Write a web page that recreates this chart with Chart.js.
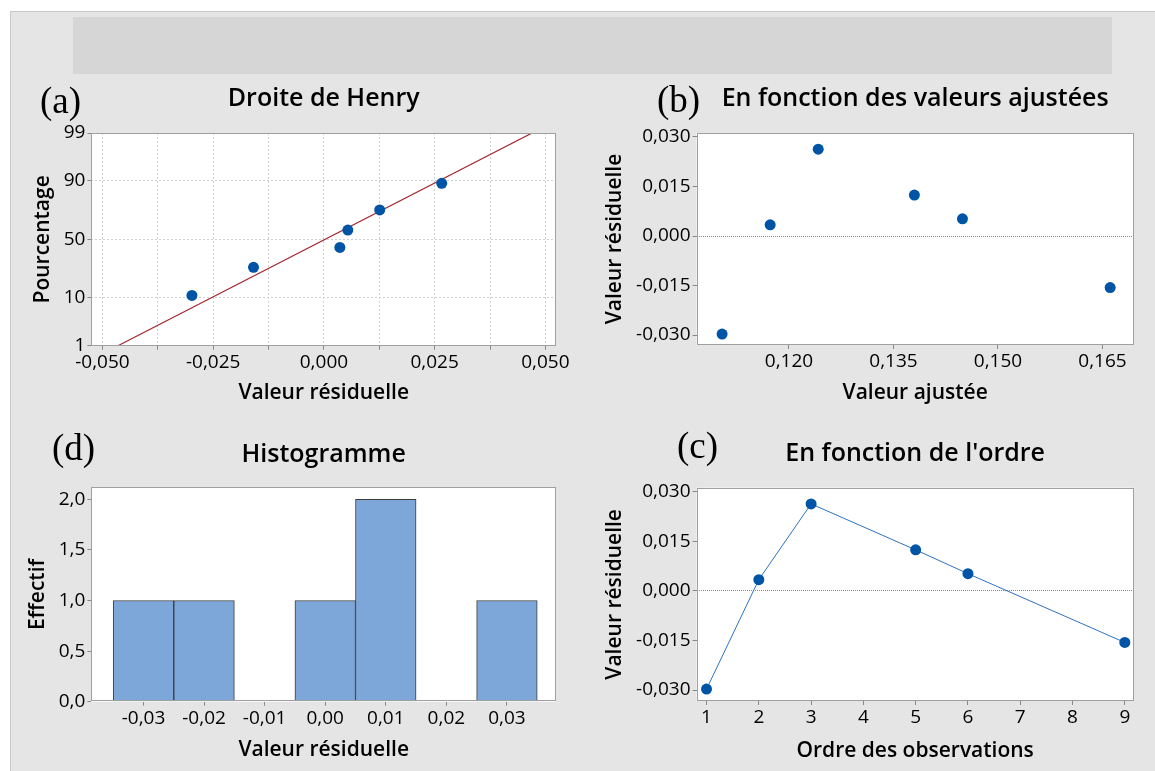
<!DOCTYPE html>
<html>
<head>
<meta charset="utf-8">
<script src="https://cdn.jsdelivr.net/npm/chart.js@4/dist/chart.umd.min.js"></script>
<style>
  html, body { margin: 0; padding: 0; background: #ffffff; }
  body { width: 1155px; height: 771px; position: relative; overflow: hidden; }
  #frame { position: absolute; left: 10px; top: 11px; width: 1160px; height: 770px; background: #e5e5e5; border: 1px solid #c8c8c8; box-sizing: border-box; }
  #banner { position: absolute; left: 73px; top: 17px; width: 1039px; height: 57px; background: #d6d6d6; }
  canvas { position: absolute; }
  .lab { position: absolute; font-family: 'Liberation Serif', 'Times New Roman', serif; font-size: 37px; color: #000; line-height: 1; white-space: nowrap; }
</style>
</head>
<body>
<div id="frame"></div>
<div id="banner"></div>
<canvas id="cA" width="580" height="340" style="left:0px;top:80px;"></canvas>
<canvas id="cB" width="575" height="340" style="left:580px;top:80px;"></canvas>
<canvas id="cD" width="580" height="341" style="left:0px;top:430px;"></canvas>
<canvas id="cC" width="575" height="341" style="left:580px;top:430px;"></canvas>
<div class="lab" style="left:40px;top:82px;">(a)</div>
<div class="lab" style="left:657px;top:81px;">(b)</div>
<div class="lab" style="left:52px;top:429px;">(d)</div>
<div class="lab" style="left:677px;top:427px;">(c)</div>
<script>
// ---------- data ----------
const henryResid   = [-0.0298, -0.0159, 0.0036, 0.0054, 0.0126, 0.0266];
const henryPct     = [11, 27, 43, 58, 74, 89];
const fitLineResid = [-0.0465, 0.0470];
const fitLinePct   = [1, 99];
const pctTicks     = [1, 10, 50, 90, 99];
const henryXTicks  = [-0.05, -0.0375, -0.025, -0.0125, 0, 0.0125, 0.025, 0.0375, 0.05];
const henryXLabeled = [-0.05, -0.025, 0, 0.025, 0.05];

const fittedValues = [0.1104, 0.1173, 0.1242, 0.1380, 0.1449, 0.1661];
const residuals    = [-0.0297, 0.0034, 0.0263, 0.0124, 0.0052, -0.0156];
const obsOrder     = [1, 2, 3, 5, 6, 9];
const residTicks   = [-0.030, -0.015, 0.000, 0.015, 0.030];
const fittedTicks  = [0.120, 0.135, 0.150, 0.165];
const orderTicks   = [1, 2, 3, 4, 5, 6, 7, 8, 9];

const histBins     = [-0.03, -0.02, -0.01, 0.00, 0.01, 0.02, 0.03];
const histCounts   = [1, 1, 0, 1, 2, 0, 1];
const countTicks   = [0, 0.5, 1.0, 1.5, 2.0];

// ---------- helpers ----------
const FONT = "'Open Sans', 'Noto Sans', sans-serif";
const TICK_FONT = { family: FONT, size: 19, weight: '500' };
const AXT_FONT = { family: FONT, size: 21, weight: '600' };
const TITLE_FONT = { family: FONT, size: 25, weight: '600' };
const DOT = '#0054a6';

function fmt(v, d) {
  let s = Math.abs(v) < 1e-12 ? (0).toFixed(d) : v.toFixed(d);
  return s.replace('.', ',');
}
// inverse standard normal CDF (Acklam) for the probability axis
function probit(p) {
  const a = [-3.969683028665376e+01, 2.209460984245205e+02, -2.759285104469687e+02, 1.383577518672690e+02, -3.066479806614716e+01, 2.506628277459239e+00];
  const b = [-5.447609879822406e+01, 1.615858368580409e+02, -1.556989798598866e+02, 6.680131188771972e+01, -1.328068155288572e+01];
  const c = [-7.784894002430293e-03, -3.223964580411365e-01, -2.400758277161838e+00, -2.549732539343734e+00, 4.374664141464968e+00, 2.938163982698783e+00];
  const d = [7.784695709041462e-03, 3.224671290700398e-01, 2.445134137142996e+00, 3.754408661907416e+00];
  const pl = 0.02425, ph = 1 - pl;
  let q, r;
  if (p < pl) { q = Math.sqrt(-2 * Math.log(p)); return (((((c[0]*q+c[1])*q+c[2])*q+c[3])*q+c[4])*q+c[5]) / ((((d[0]*q+d[1])*q+d[2])*q+d[3])*q+1); }
  if (p <= ph) { q = p - 0.5; r = q*q; return (((((a[0]*r+a[1])*r+a[2])*r+a[3])*r+a[4])*r+a[5])*q / (((((b[0]*r+b[1])*r+b[2])*r+b[3])*r+b[4])*r+1); }
  q = Math.sqrt(-2 * Math.log(1 - p)); return -(((((c[0]*q+c[1])*q+c[2])*q+c[3])*q+c[4])*q+c[5]) / ((((d[0]*q+d[1])*q+d[2])*q+d[3])*q+1);
}

const framePlugin = {
  id: 'frame',
  beforeDraw(chart) {
    const { ctx, chartArea: a } = chart;
    ctx.save(); ctx.fillStyle = '#ffffff'; ctx.fillRect(a.left, a.top, a.width, a.height); ctx.restore();
  },
  afterDraw(chart) {
    const { ctx, chartArea: a } = chart;
    ctx.save(); ctx.strokeStyle = '#a0a0a0'; ctx.lineWidth = 1;
    ctx.strokeRect(Math.round(a.left) + 0.5, Math.round(a.top) + 0.5, Math.round(a.width) - 1, Math.round(a.height) - 1);
    ctx.restore();
  }
};

function xAxis(o) {
  return {
    type: 'linear', position: 'bottom', min: o.min, max: o.max, offset: false,
    afterBuildTicks: s => { s.ticks = o.ticks.map(v => ({ value: v })); },
    afterFit: s => { s.height = o.height; },
    ticks: { callback: o.cb, font: TICK_FONT, color: '#000', padding: 1, maxRotation: 0, autoSkip: false },
    grid: { offset: false, drawOnChartArea: !!o.grid, color: o.gridColor || '#cccccc', tickLength: 4, tickColor: '#888888', tickWidth: 1, borderDash: [2, 2] },
    border: { display: false, dash: [2, 2] },
    title: { display: true, text: o.title, font: AXT_FONT, color: '#000', padding: { top: 0, bottom: o.tpad } }
  };
}
function yAxis(o) {
  return {
    type: 'linear', position: 'left', min: o.min, max: o.max,
    afterBuildTicks: s => { s.ticks = o.ticks.map(v => ({ value: v })); },
    afterFit: s => { s.width = o.width; },
    ticks: { callback: o.cb, font: TICK_FONT, color: '#000', padding: 2, autoSkip: false },
    grid: { drawOnChartArea: !!o.grid, color: o.gridColor || '#cccccc', tickLength: 4, tickColor: '#888888', tickWidth: 1, borderDash: o.dash || [2, 2] },
    border: { display: false, dash: o.dash || [2, 2] },
    title: { display: true, text: o.title, font: AXT_FONT, color: '#000', padding: { top: o.tpad, bottom: 0 } }
  };
}
function baseOpts(title, tpt, tpb, padRight) {
  return {
    responsive: false, animation: false, devicePixelRatio: 1,
    layout: { padding: { left: 0, right: padRight, top: 0, bottom: 0 } },
    plugins: {
      legend: { display: false }, tooltip: { enabled: false },
      title: { display: true, text: title, font: TITLE_FONT, color: '#000', fullSize: false, padding: { top: tpt, bottom: tpb } }
    }
  };
}
const zeroGridColor = ctx => (ctx.tick && Math.abs(ctx.tick.value) < 1e-12) ? '#8a8a8a' : 'rgba(0,0,0,0)';

// title box: lineHeight = 25*1.2 = 30
// ---------- (a) Droite de Henry ----------
(function () {
  const o = baseOpts('Droite de Henry', 4, 19, 24);
  o.scales = {
    x: xAxis({ min: -0.0525, max: 0.0524, ticks: henryXTicks, height: 74.3, grid: true, gridColor: '#cfcfcf',
      cb: v => henryXLabeled.some(t => Math.abs(t - v) < 1e-9) ? fmt(v, 3) : '', title: 'Valeur résiduelle', tpad: 14 }),
    y: yAxis({ min: probit(0.01), max: probit(0.99), ticks: pctTicks.map(p => probit(p / 100)), width: 91.4, grid: true, gridColor: '#cfcfcf',
      cb: (v, i) => String(pctTicks[i]), title: 'Pourcentage', tpad: 30.7 })
  };
  new Chart(document.getElementById('cA'), {
    type: 'scatter',
    data: { datasets: [
      { data: henryResid.map((x, i) => ({ x, y: probit(henryPct[i] / 100) })), pointRadius: 5.5, pointBackgroundColor: DOT, pointBorderWidth: 0, showLine: false, order: 1 },
      { data: fitLineResid.map((x, i) => ({ x, y: probit(fitLinePct[i] / 100) })), showLine: true, borderColor: '#a3232a', borderWidth: 1.2, pointRadius: 0, order: 2 }
    ] },
    options: o, plugins: [framePlugin]
  });
})();

// ---------- (b) En fonction des valeurs ajustées ----------
(function () {
  const o = baseOpts('En fonction des valeurs ajustées', 4, 19, 21.3);
  o.scales = {
    x: xAxis({ min: 0.10674, max: 0.16948, ticks: fittedTicks, height: 75, cb: v => fmt(v, 3), title: 'Valeur ajustée', tpad: 14 }),
    y: yAxis({ min: -0.0330, max: 0.0312, ticks: residTicks, width: 116.6, grid: true, gridColor: zeroGridColor, dash: [1, 1],
      cb: v => fmt(v, 3), title: 'Valeur résiduelle', tpad: 22.2 })
  };
  new Chart(document.getElementById('cB'), {
    type: 'scatter',
    data: { datasets: [{ data: fittedValues.map((x, i) => ({ x, y: residuals[i] })), pointRadius: 5.5, pointBackgroundColor: DOT, pointBorderWidth: 0 }] },
    options: o, plugins: [framePlugin]
  });
})();

// ---------- (d) Histogramme ----------
(function () {
  const o = baseOpts('Histogramme', 10, 17.3, 24);
  o.scales = {
    x: xAxis({ min: -0.0386, max: 0.0381, ticks: histBins, height: 69.3, cb: v => fmt(v, 2), title: 'Valeur résiduelle', tpad: 8.4 }),
    y: yAxis({ min: 0, max: 2.119, ticks: countTicks, width: 91.4, cb: v => fmt(v, 1), title: 'Effectif', tpad: 25.5 })
  };
  new Chart(document.getElementById('cD'), {
    type: 'bar',
    data: { datasets: [{ data: histBins.map((x, i) => ({ x, y: histCounts[i] })), backgroundColor: '#7da7d9', borderColor: '#3c3c3c', borderWidth: 1, borderSkipped: 'bottom', barPercentage: 1, categoryPercentage: 1 }] },
    options: o, plugins: [framePlugin]
  });
})();

// ---------- (c) En fonction de l'ordre ----------
(function () {
  const o = baseOpts("En fonction de l'ordre", 9, 18.7, 21.3);
  o.scales = {
    x: xAxis({ min: 0.81, max: 9.17, ticks: orderTicks, height: 70, cb: v => String(v), title: 'Ordre des observations', tpad: 7.7 }),
    y: yAxis({ min: -0.0333, max: 0.0312, ticks: residTicks, width: 116.6, grid: true, gridColor: zeroGridColor, dash: [1, 1],
      cb: v => fmt(v, 3), title: 'Valeur résiduelle', tpad: 22.2 })
  };
  new Chart(document.getElementById('cC'), {
    type: 'scatter',
    data: { datasets: [{ data: obsOrder.map((x, i) => ({ x, y: residuals[i] })), showLine: true, borderColor: '#2f72c0', borderWidth: 1, pointRadius: 5.5, pointBackgroundColor: DOT, pointBorderWidth: 0 }] },
    options: o, plugins: [framePlugin]
  });
})();
</script>
</body>
</html>
